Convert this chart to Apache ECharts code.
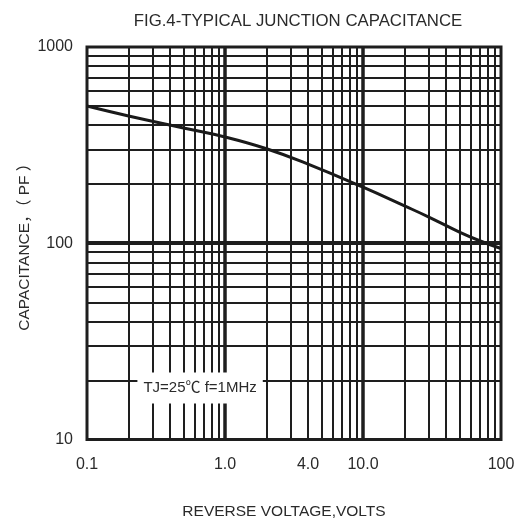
<!DOCTYPE html>
<html>
<head>
<meta charset="utf-8">
<script src="https://cdn.jsdelivr.net/npm/echarts@6/dist/echarts.min.js"></script>
<style>
html,body{margin:0;padding:0;background:#fff;}
#chart{width:518px;height:524px;}
</style>
</head>
<body>
<div id="chart"></div>
<script>
// Data
const voltage = [0.1, 0.2, 0.5, 1.0, 2.0, 4.0, 10, 20, 30, 50, 70, 100];
const capacitance = [500, 445, 387, 348, 303, 253, 193, 155, 136, 114, 103, 94];
const xTickLabels = [0.1, 1, 4, 10, 100];
const xLabelText = {0.1: '0.1', 1: '1.0', 4: '4.0', 10: '10.0', 100: '100'};
const xMajor = [1, 10];
const xMinor = [0.2,0.3,0.4,0.5,0.6,0.7,0.8,0.9, 2,3,4,5,6,7,8,9, 20,30,40,50,60,70,80,90];
const yMajor = [100];
const yMinor = [20,30,40,50,60,70,80,90, 200,300,400,500,600,700,800,900];
const annotation = 'TJ=25℃ f=1MHz';

const FONT = "'Liberation Sans', Arial, 'Noto Sans CJK SC', sans-serif";
const GRID_COLOR = '#1e1e1e';

const lines = [];
xMinor.forEach(v => lines.push({xAxis: v, lineStyle: {width: 2}}));
yMinor.forEach(v => lines.push({yAxis: v, lineStyle: {width: 2}}));
xMajor.forEach(v => lines.push({xAxis: v, lineStyle: {width: 3.5}}));
yMajor.forEach(v => lines.push({yAxis: v, lineStyle: {width: 4}}));

const chart = echarts.init(document.getElementById('chart'), null, {renderer: 'canvas'});
chart.setOption({
  animation: false,
  backgroundColor: '#fff',
  title: {
    text: 'FIG.4-TYPICAL JUNCTION CAPACITANCE',
    left: 293, textAlign: 'center', top: 8,
    textStyle: {fontFamily: FONT, fontSize: 16.8, fontWeight: 'normal', color: '#2a2a2a'}
  },
  grid: {
    left: 87, right: 17, top: 47, bottom: 82,
    show: true, borderColor: GRID_COLOR, borderWidth: 3
  },
  xAxis: {
    type: 'log', logBase: 10, min: 0.1, max: 100,
    name: 'REVERSE VOLTAGE,VOLTS', nameLocation: 'middle', nameGap: 64,
    nameTextStyle: {fontFamily: FONT, fontSize: 15.5, color: '#2a2a2a', padding: [0, 20, 0, 0]},
    axisLine: {show: false}, axisTick: {show: false},
    splitLine: {show: false},
    axisLabel: {
      customValues: xTickLabels,
      formatter: v => xLabelText[Math.round(v * 10) / 10] || String(v),
      fontFamily: FONT, fontSize: 16, color: '#2a2a2a', margin: 17
    }
  },
  yAxis: {
    type: 'log', logBase: 10, min: 10, max: 1000,
    name: 'CAPACITANCE，（ PF ）', nameLocation: 'middle', nameGap: 55,
    nameMoveOverlap: false,
    nameTextStyle: {fontFamily: FONT, fontSize: 15.5, color: '#2a2a2a'},
    axisLine: {show: false}, axisTick: {show: false},
    splitLine: {show: false},
    axisLabel: {
      formatter: v => String(Math.round(v)),
      fontFamily: FONT, fontSize: 16, color: '#2a2a2a', margin: 14
    }
  },
  series: [{
    type: 'line',
    data: voltage.map((v, i) => [v, capacitance[i]]),
    smooth: 0.45,
    symbol: 'none',
    lineStyle: {color: '#1a1a1a', width: 3},
    z: 5,
    markLine: {
      silent: true, symbol: 'none',
      label: {show: false},
      lineStyle: {color: GRID_COLOR, type: 'solid', width: 2},
      data: lines,
      z: 2
    },
    markPoint: {
      silent: true,
      symbol: 'rect', symbolSize: 0,
      data: [{coord: [0.66, 18.3], value: annotation}],
      label: {
        show: true, position: 'inside',
        formatter: annotation,
        fontFamily: FONT, fontSize: 15, color: '#2a2a2a',
        backgroundColor: '#fff', padding: [8, 6, 8, 6]
      },
      z: 10
    }
  }]
});
</script>
</body>
</html>
